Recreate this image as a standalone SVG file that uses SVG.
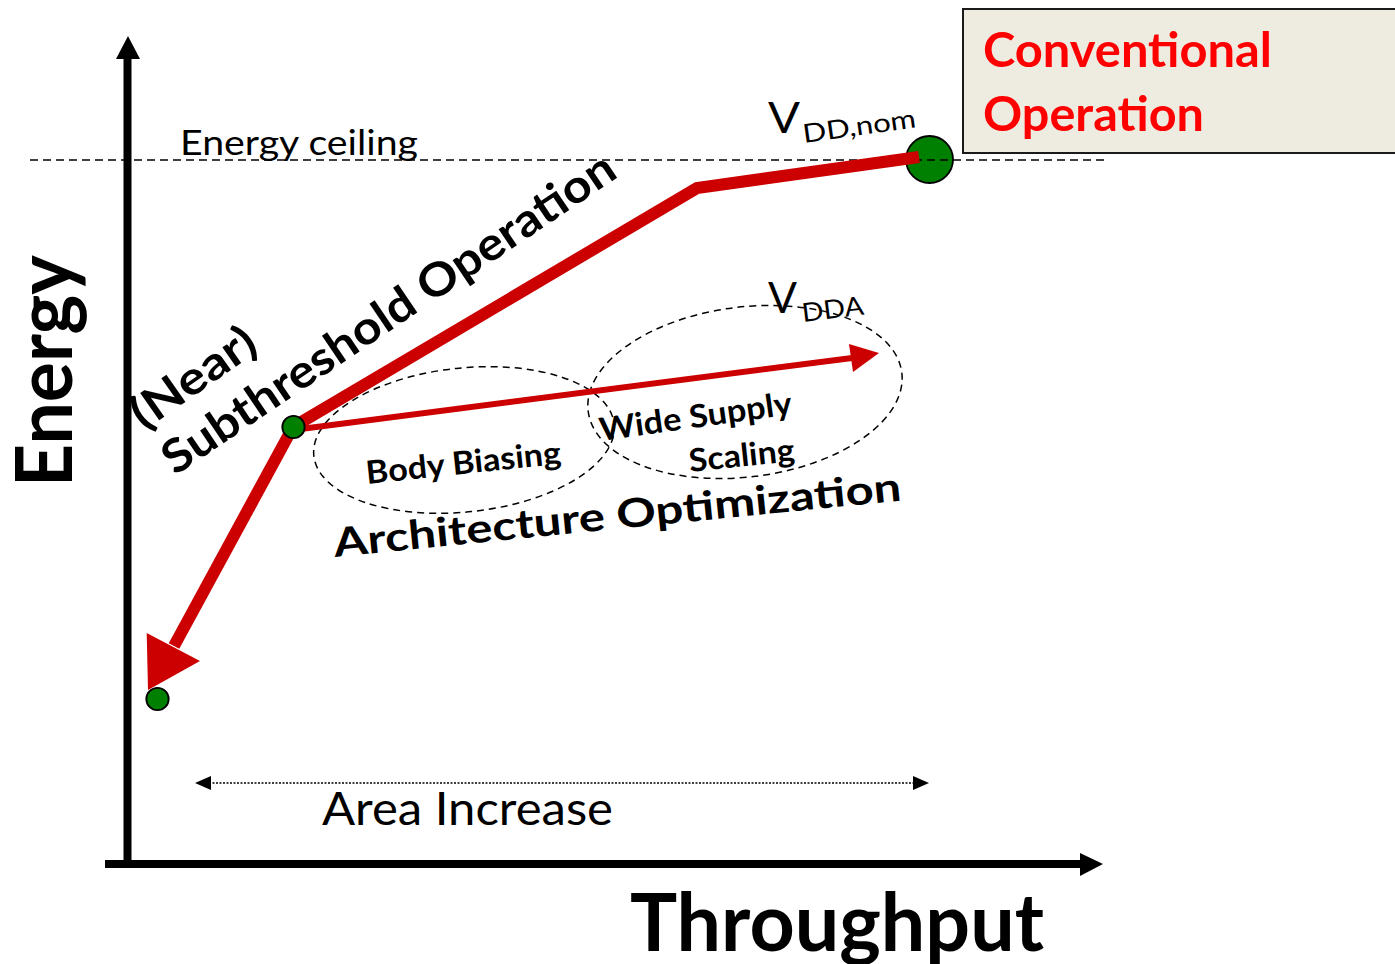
<svg xmlns="http://www.w3.org/2000/svg" width="1395" height="964" viewBox="0 0 1395 964">
<style>
  text { font-family: Lato, "Open Sans", "Liberation Sans", sans-serif; fill: #000; }
  .b { font-weight: 700; }
  .red { fill: #FF0000; }
  .axis { stroke: #000; stroke-width: 8; fill: none; }
  .dash { stroke: #000; stroke-width: 1.5; stroke-dasharray: 8 5; fill: none; }
  .ell { stroke: #000; stroke-width: 1.5; stroke-dasharray: 7 5; fill: none; }
  .dot { fill: #008000; stroke: #000; stroke-width: 1.8; }
  .rl { stroke: #CC0000; fill: none; }
  .rh { fill: #CC0000; }
</style>
<rect width="1395" height="964" fill="#fff"/>

<g id="conventional-box">
  <rect x="963" y="9" width="445" height="144" fill="#EEEBE0" stroke="#1a1a1a" stroke-width="2"/>
  <text class="b red" x="983" y="67" font-size="48" textLength="289" lengthAdjust="spacingAndGlyphs">Conventional</text>
  <text class="b red" x="983" y="131" font-size="48" textLength="221" lengthAdjust="spacingAndGlyphs">Operation</text>
</g>

<g id="axes">
  <line class="axis" x1="127.5" y1="868" x2="127.5" y2="58"/>
  <polygon points="116,59 140,59 128,36" fill="#000"/>
  <line class="axis" x1="105" y1="864" x2="1081" y2="864"/>
  <polygon points="1080,853 1080,876 1103,864" fill="#000"/>
  <text id="energy-label" class="b" transform="translate(72,487) rotate(-90)" font-size="78" textLength="232" lengthAdjust="spacingAndGlyphs">Energy</text>
  <text id="throughput-label" class="b" x="630" y="951" font-size="81" textLength="414" lengthAdjust="spacingAndGlyphs">Throughput</text>
</g>

<g id="vddnom-node">
  <circle class="dot" cx="929.5" cy="159.5" r="23.5"/>
  <text x="768" y="133" font-size="43" textLength="32" lengthAdjust="spacingAndGlyphs">V</text>
  <text transform="translate(804,143) rotate(-8)" font-size="26" textLength="114" lengthAdjust="spacingAndGlyphs">DD,nom</text>
</g>

<g id="energy-ceiling">
  <line class="dash" x1="30" y1="160" x2="1105" y2="160"/>
  <text x="180" y="155" font-size="35" textLength="238" lengthAdjust="spacingAndGlyphs">Energy ceiling</text>
</g>

<g id="body-biasing">
  <ellipse class="ell" cx="464" cy="440" rx="151" ry="72" transform="rotate(-6 464 440)"/>
  <text class="b" transform="translate(367,484) rotate(-6)" font-size="32" textLength="196" lengthAdjust="spacingAndGlyphs">Body Biasing</text>
</g>

<g id="wide-supply-scaling">
  <ellipse class="ell" cx="745" cy="392" rx="158" ry="85" transform="rotate(-7 745 392)"/>
  <text class="b" transform="translate(601,441) rotate(-8)" font-size="32" textLength="194" lengthAdjust="spacingAndGlyphs">Wide Supply</text>
  <text class="b" transform="translate(690,472) rotate(-6)" font-size="32" textLength="106" lengthAdjust="spacingAndGlyphs">Scaling</text>
</g>

<g id="vdda-label">
  <text x="768" y="313" font-size="43" textLength="29" lengthAdjust="spacingAndGlyphs">V</text>
  <text transform="translate(803,322) rotate(-7)" font-size="26" textLength="62" lengthAdjust="spacingAndGlyphs">DDA</text>
</g>

<g id="labels">
  <text class="b" transform="translate(144,431) rotate(-35)" font-size="46" textLength="142" lengthAdjust="spacingAndGlyphs">(Near)</text>
  <text class="b" transform="translate(175,476) rotate(-34)" font-size="46" textLength="536" lengthAdjust="spacingAndGlyphs">Subthreshold Operation</text>
  <text class="b" transform="translate(335,557) rotate(-5.7)" font-size="40" textLength="570" lengthAdjust="spacingAndGlyphs">Architecture Optimization</text>
</g>

<g id="connectors">
  <polyline class="rl" stroke-width="12" points="293,427 697,188 919,157"/>
  <line class="rl" stroke-width="6" x1="293" y1="430" x2="852" y2="358"/>
  <polygon class="rh" points="849,344 853,372 879,353"/>
  <line class="rl" stroke-width="12" x1="293" y1="427" x2="174" y2="646"/>
  <polygon class="rh" points="146.7,633 200,661 148,690"/>
  <g id="area-increase">
    <line x1="209" y1="783" x2="915" y2="783" stroke="#000" stroke-width="1.5" stroke-dasharray="2 1.5"/>
    <polygon points="195,783 211,776 211,790" fill="#000"/>
    <polygon points="929,783 913,776 913,790" fill="#000"/>
    <text x="322" y="825" font-size="46" textLength="291" lengthAdjust="spacingAndGlyphs">Area Increase</text>
  </g>
</g>

<g id="subthreshold-node">
  <circle class="dot" cx="293.5" cy="427" r="11.2"/>
</g>
<g id="min-energy-node">
  <circle class="dot" cx="157.5" cy="699" r="11.2"/>
</g>
</svg>
